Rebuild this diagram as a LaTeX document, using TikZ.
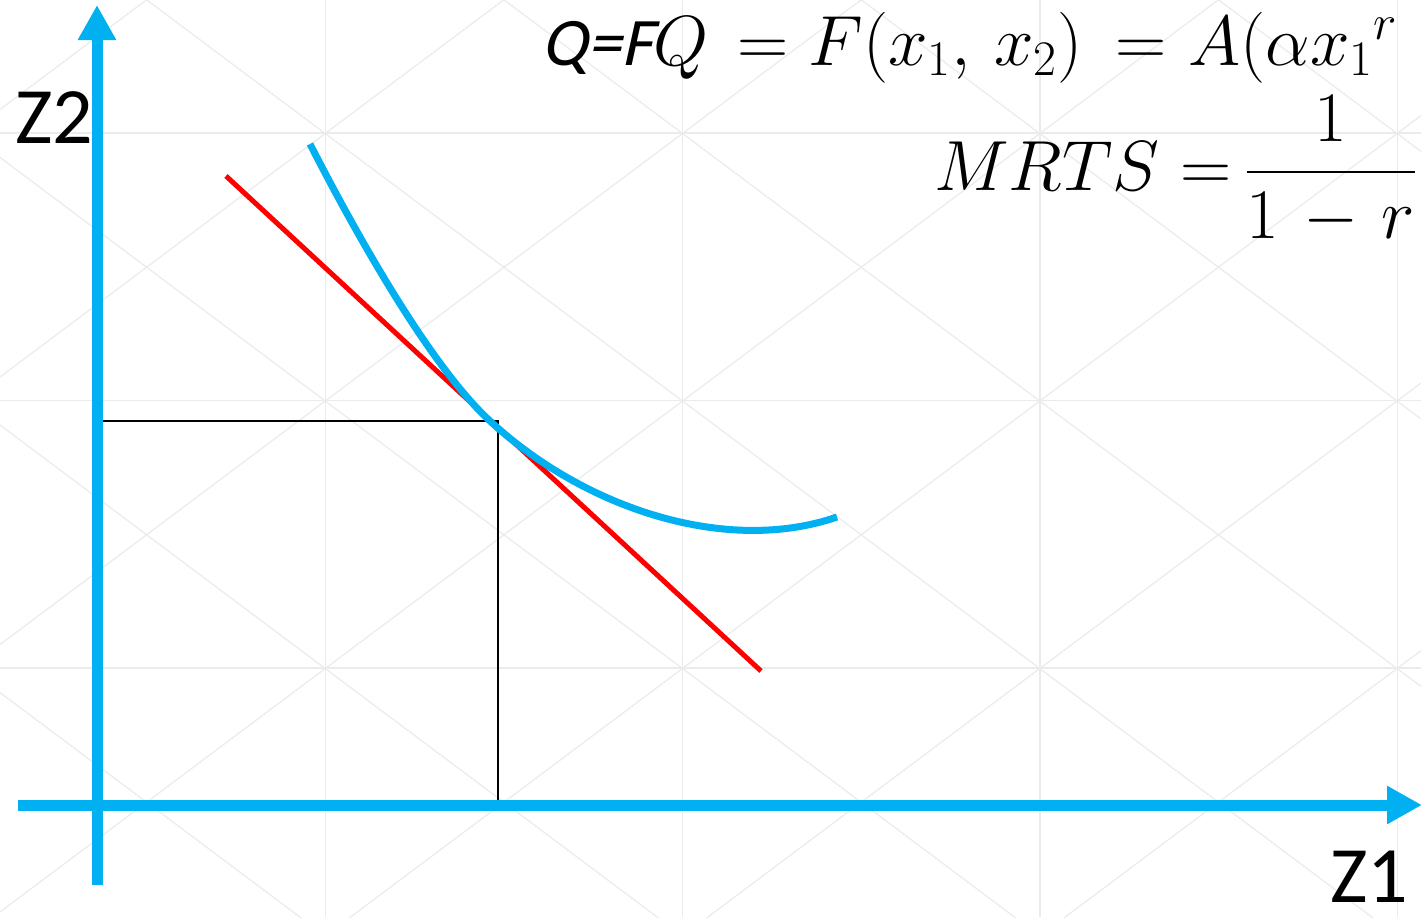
\RequirePackage{fix-cm}
\documentclass[tikz,border=0pt]{standalone}
\usepackage{amsmath}
\usepackage{fontspec}
\usepackage{xcolor}
\usetikzlibrary{arrows.meta}
\newfontfamily\calibriFont{Carlito}
\newfontfamily\calibriSlant{Carlito}[FakeSlant=0.22]
\definecolor{axisBlue}{HTML}{00B0F0}
\definecolor{gridGray}{HTML}{EBEBEB}
\newcommand{\eqSize}{\fontsize{35.5}{42}\selectfont}
\newcommand{\zSize}{\fontsize{40}{48}\selectfont}

\begin{document}
\begin{tikzpicture}[x=0.5pt,y=-0.5pt,
  gridline/.style={draw=gridGray, line width=0.6pt},
  axisline/.style={draw=axisBlue, line width=5.5pt, -{Triangle[length=17.5pt,width=18pt]}},
  isoquant/.style={draw=axisBlue, line width=3.5pt},
  budget/.style={draw=red, line width=2.5pt},
  guide/.style={draw=black, line width=0.9pt},
  eq/.style={anchor=base west, inner sep=0pt, font=\eqSize},
  zlabel/.style={anchor=base west, inner sep=0pt, font=\calibriFont\zSize}]
\useasboundingbox (0,0) rectangle (1421,917);
\clip (0,0) rectangle (1421,917);
\fill[white] (0,0) rectangle (1421,917);
\foreach \gx in {325.3,682.6,1039.9,1397.2} \draw[gridline] (\gx,0) -- (\gx,917);
\foreach \gy in {133,400.5,668} \draw[gridline] (0,\gy) -- (1421,\gy);
\foreach \m in {-4,...,4} \draw[gridline] (0,{-110+267.5*\m}) -- (1421,{-110+267.5*\m+1063.9});
\foreach \m in {1,...,8} \draw[gridline] (0,{-158+267.5*\m}) -- (1421,{-158+267.5*\m-1063.9});
\coordinate (yBottom) at (97,885);
\coordinate (yTop) at (97,5);
\coordinate (xLeft) at (18,805);
\coordinate (xRight) at (1422,805);
\coordinate (tangentPt) at (498,421);
\coordinate (z2Foot) at (99,421);
\coordinate (z1Foot) at (498,805);
\coordinate (budgetTop) at (226,176);
\coordinate (budgetEnd) at (761,671);
\coordinate (isoStart) at (310,144);
\coordinate (isoMid) at (490,421);
\coordinate (isoEnd) at (837,517);
\draw[guide] (z2Foot) -- (tangentPt) -- (z1Foot);
\draw[axisline] (yBottom) -- (yTop);
\draw[axisline] (xLeft) -- (xRight);
\draw[budget] (budgetTop) -- (budgetEnd);
\draw[isoquant] (isoStart) .. controls (352,226) and (428,364) .. (isoMid) .. controls (585,509) and (727,555) .. (isoEnd);
\node[zlabel] (zTwo) at (15,143) {Z2};
\node[zlabel] (zOne) at (1330,902) {Z1};
\node[anchor=base west, inner sep=0pt, font=\calibriSlant\fontsize{34}{40}\selectfont] (qEqF) at (541,65) {Q=F};
\node[eq] (qSym) at (653,65) {$Q$};
\node[eq] (eqOne) at (737,65) {$=$};
\node[eq] (fOfX) at (808,65) {$F(x_1,\,x_2)$};
\node[eq] (eqTwo) at (1115,65) {$=$};
\node[eq] (aAlpha) at (1188,65) {$A(\alpha {x_1}^{r}$};
\node[anchor=base east, inner sep=0pt, font=\eqSize] (mrts) at (1160,190) {$MRTS$};
\node[eq] (eqThree) at (1180,190) {$=$};
\node[eq] (ratio) at (1244,190) {$\displaystyle\frac{1}{1\mkern2mu-\mkern2mu r}$};
\end{tikzpicture}
\end{document}
